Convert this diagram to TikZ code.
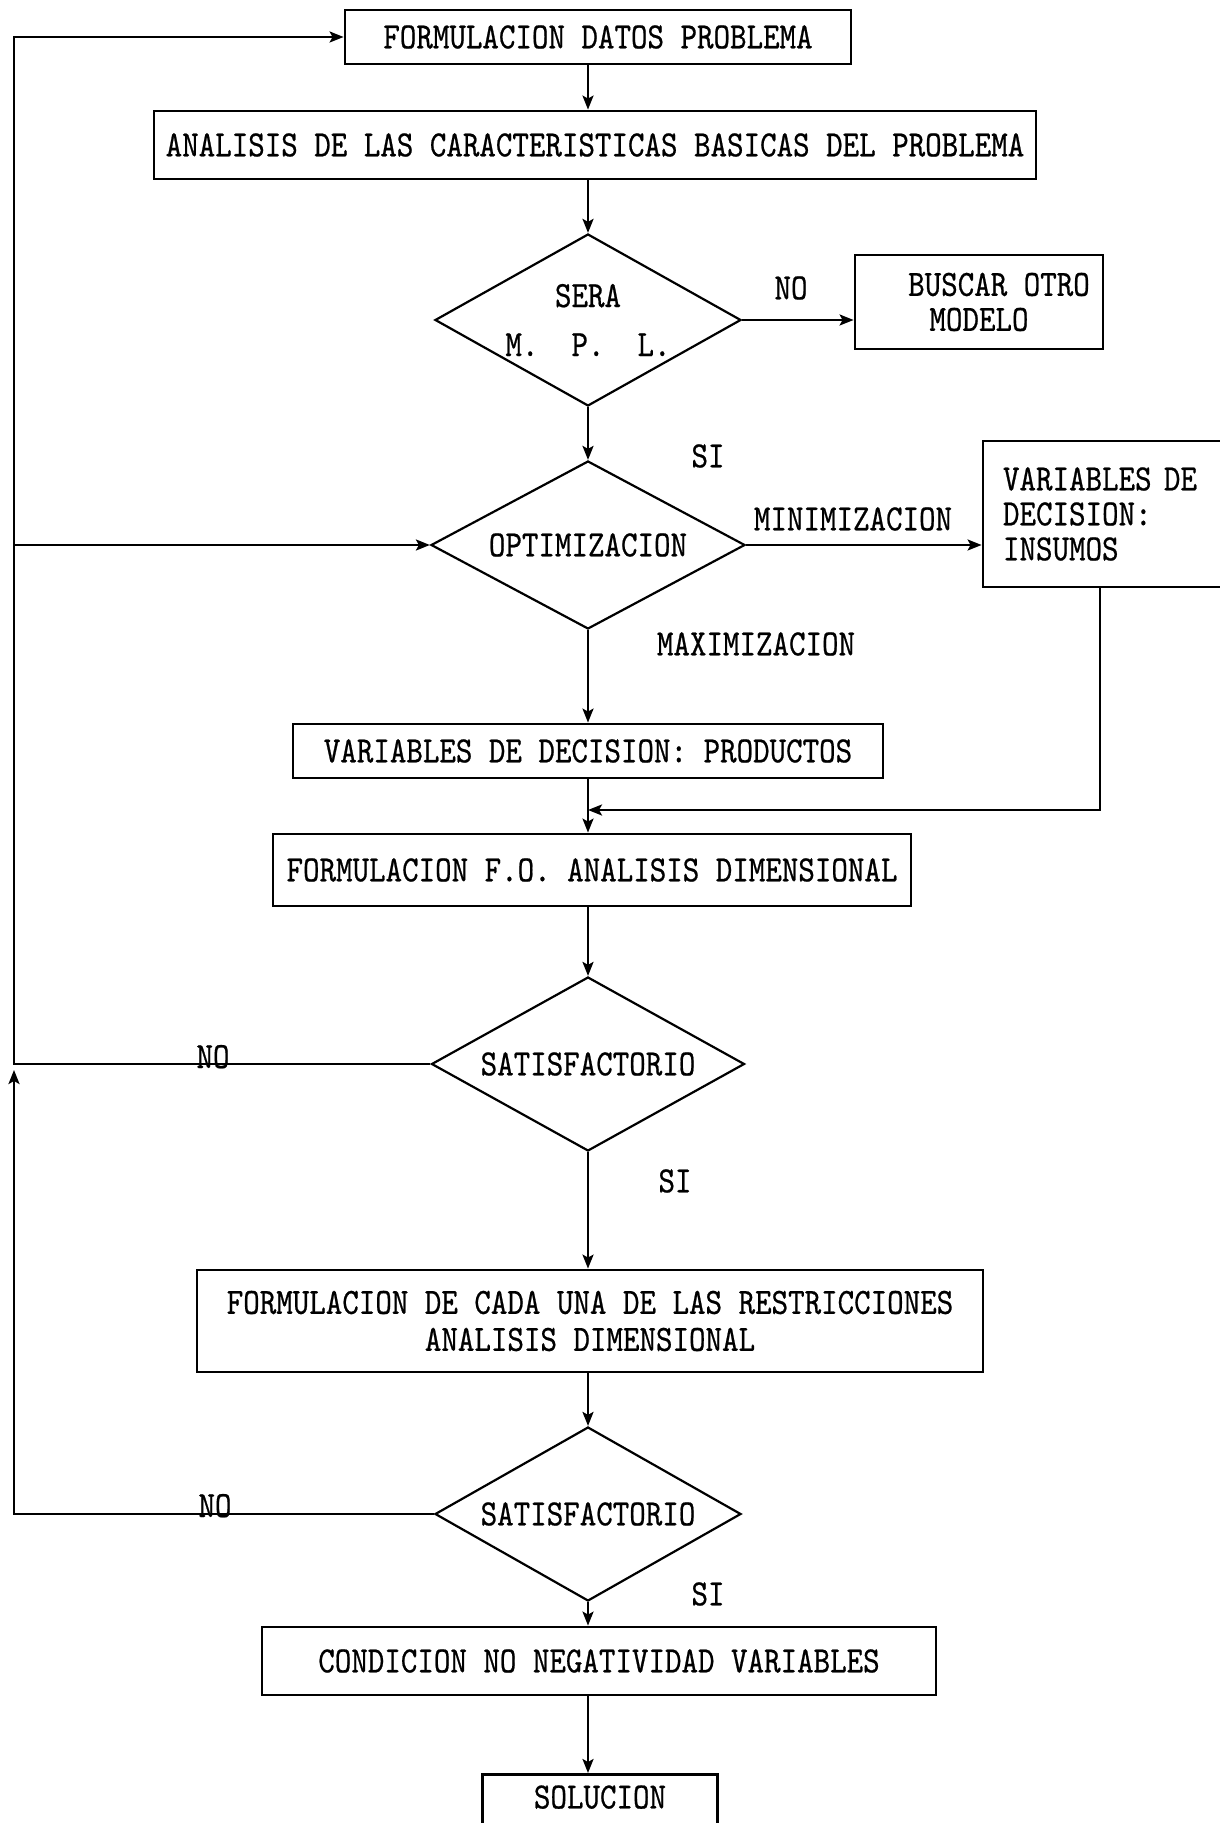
\documentclass[tikz,border=0pt]{standalone}
\usepackage{fontspec}
\newfontfamily\tw{lmmono10-regular.otf}[FakeStretch=0.85,FakeBold=0.6]
\usetikzlibrary{shapes.geometric,arrows.meta,calc}
\begin{document}
\begin{tikzpicture}[x=0.5pt,y=-0.5pt,
  every node/.style={font=\tw\fontsize{18.5}{18.5}\selectfont},
  box/.style={draw,line width=1.4pt,rectangle,inner sep=0pt,align=center},
  dec/.style={draw,line width=1.1pt,diamond,shape aspect=1.8,inner sep=0pt,align=center},
  conn/.style={line width=1.2pt},
  arr/.style={conn,-{Stealth[length=7pt,width=5.5pt,inset=1.5pt]}},
  lab/.style={inner sep=0pt}]
\useasboundingbox (0,0) rectangle (1219,1823);
\fill[white] (0,0) rectangle (1219,1823);

% boxes
\node[box,minimum width=253pt,minimum height=27pt] (b1) at (598,37) {FORMULACION DATOS PROBLEMA};
\node[box,minimum width=441pt,minimum height=34pt] (b2) at (595,145) {ANALISIS DE LAS CARACTERISTICAS BASICAS DEL PROBLEMA};
\node[dec,minimum width=153pt,minimum height=86pt] (d1) at (588,320) {SERA\\[6pt]M.\ \ P.\ \ L.};
\node[box,minimum width=124pt,minimum height=47pt] (b3) at (979,302) {\hspace*{20pt}BUSCAR OTRO\\[-1pt]MODELO};
\node[dec,minimum width=157pt,minimum height=84pt] (d2) at (588,545) {OPTIMIZACION};
\node[box,minimum width=120pt,minimum height=73pt,text width=100pt,align=left] (b4) at (1103,514) {VARIABLES DE\\[-1pt]DECISION:\\[-1pt]INSUMOS};
\node[box,minimum width=295pt,minimum height=27pt] (b5) at (588,751) {VARIABLES DE DECISION: PRODUCTOS};
\node[box,minimum width=319pt,minimum height=36pt] (b6) at (592,870) {FORMULACION F.O. ANALISIS DIMENSIONAL};
\node[dec,minimum width=156.5pt,minimum height=87pt] (d3) at (588,1064) {SATISFACTORIO};
\node[box,minimum width=393pt,minimum height=51pt] (b7) at (590,1321) {FORMULACION DE CADA UNA DE LAS RESTRICCIONES\\ANALISIS DIMENSIONAL};
\node[dec,minimum width=153pt,minimum height=87pt] (d4) at (588,1514) {SATISFACTORIO};
\node[box,minimum width=337pt,minimum height=34pt] (b8) at (599,1661) {CONDICION NO NEGATIVIDAD VARIABLES};
\node[box,anchor=north,minimum width=117.5pt,text height=17pt,text depth=20pt] (b9) at (600,1773) {SOLUCION};

% labels
\node[lab] (l1) at (791,288) {NO};
\node[lab] (l2) at (708,456) {SI};
\node[lab] (l3) at (853,519) {MINIMIZACION};
\node[lab] (l4) at (756,644) {MAXIMIZACION};
\node[lab,anchor=base] (l5) at (213,1068) {NO};
\node[lab] (l6) at (675,1181) {SI};
\node[lab,anchor=base] (l7) at (215,1517) {NO};
\node[lab] (l8) at (708,1594) {SI};

% helper coordinates
\coordinate (lx) at (14,0);
\coordinate (fbc) at (1100,810);

% main spine
\draw[arr] (b1.south -| d1.north) -- (b2.north -| d1.north);
\draw[arr] (b2.south -| d1.north) -- (d1.north);
\draw[arr] (d1.east) -- (d1.east -| b3.west);
\draw[arr] (d1.south) -- (d2.north);
\draw[arr] (d2.east) -- (d2.east -| b4.west);
\draw[arr] (d2.south) -- (d2.south |- b5.north);
\draw[arr] (b5.south -| d2.south) -- (b6.north -| d2.south);
\draw[arr] (b4.south -| fbc) -- (fbc) -- (fbc -| d2.south);
\draw[arr] (b6.south -| d3.north) -- (d3.north);
\draw[arr] (d3.south) -- (d3.south |- b7.north);
\draw[arr] (b7.south -| d4.north) -- (d4.north);
\draw[arr] (d4.south) -- (d4.south |- b8.north);
\draw[arr] (b8.south -| d4.south) -- (d4.south |- b9.north);

% left loop
\draw[arr] (d3.west) -- (d3.west -| lx) |- (b1.west);
\draw[arr] (d2.west -| lx) -- (d2.west);
\draw[arr] (d4.west) -- (d4.west -| lx) -- ([yshift=-3pt]d3.west -| lx);
\end{tikzpicture}
\end{document}
